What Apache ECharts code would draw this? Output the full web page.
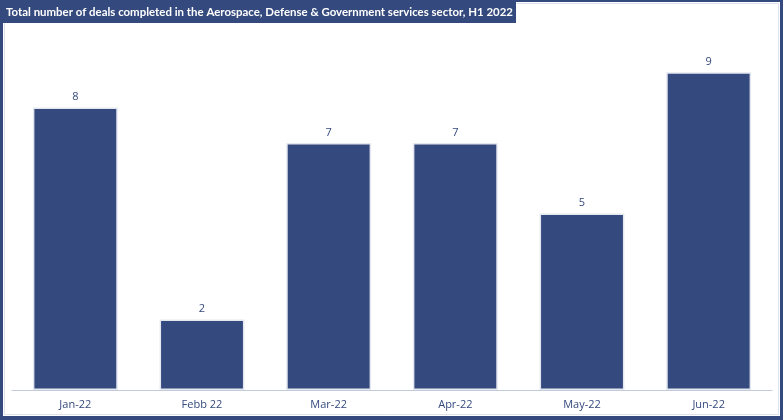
<!DOCTYPE html>
<html>
<head>
<meta charset="utf-8">
<script src="https://cdn.jsdelivr.net/npm/echarts@6/dist/echarts.min.js"></script>
<style>
html,body{margin:0;padding:0;background:#fff;}
#c{width:783px;height:420px;}
</style>
</head>
<body>
<div id="c"></div>
<script>
const categories = ['Jan-22', 'Febb 22', 'Mar-22', 'Apr-22', 'May-22', 'Jun-22'];
const deals = [8, 2, 7, 7, 5, 9];
const titleText = 'Total number of deals completed in the Aerospace, Defense & Government services sector, H1 2022';

const navy = '#34497d';
const titleFont = 'bold 12px Lato, "Open Sans", sans-serif';
const cv = document.createElement('canvas').getContext('2d');
cv.font = titleFont;
const tw = cv.measureText(titleText).width;
const titleScale = Math.min(1, 507 / tw);

const chart = echarts.init(document.getElementById('c'), null, {renderer: 'canvas'});
chart.setOption({
  animation: false,
  backgroundColor: '#ffffff',
  grid: {left: 12, right: 11, top: 37, bottom: 30},
  xAxis: {
    type: 'category',
    data: categories,
    axisLine: {lineStyle: {color: '#c3cadb', width: 1}},
    axisTick: {show: false},
    axisLabel: {color: navy, fontSize: 11, margin: 9, fontFamily: '"Open Sans", sans-serif'}
  },
  yAxis: {type: 'value', min: 0, max: 10, show: false, splitLine: {show: false}},
  series: [{
    type: 'bar',
    data: deals,
    barWidth: '67%',
    itemStyle: {color: navy, borderColor: '#e3e7ef', borderWidth: 1.5},
    label: {show: true, position: 'top', distance: 5, color: navy, fontSize: 11, fontFamily: '"Open Sans", sans-serif'}
  }],
  graphic: [
    {type: 'rect', shape: {x: 0, y: 0, width: 783, height: 2}, style: {fill: navy}, z: 100},
    {type: 'rect', shape: {x: 0, y: 0, width: 3, height: 420}, style: {fill: navy}, z: 100},
    {type: 'rect', shape: {x: 780, y: 0, width: 3, height: 420}, style: {fill: navy}, z: 100},
    {type: 'rect', shape: {x: 0, y: 416, width: 783, height: 4}, style: {fill: navy}, z: 100},
    {type: 'rect', shape: {x: 4.5, y: 3.5, width: 774, height: 411}, style: {fill: null, stroke: '#dde2ec', lineWidth: 1}, z: 99},
    {type: 'rect', shape: {x: 3, y: 0, width: 513, height: 23}, style: {fill: navy}, z: 101},
    {type: 'text', x: 6, y: 12, scaleX: titleScale, z: 102,
     style: {text: titleText, fill: '#ffffff', font: titleFont, verticalAlign: 'middle', align: 'left'}}
  ]
});
</script>
</body>
</html>
